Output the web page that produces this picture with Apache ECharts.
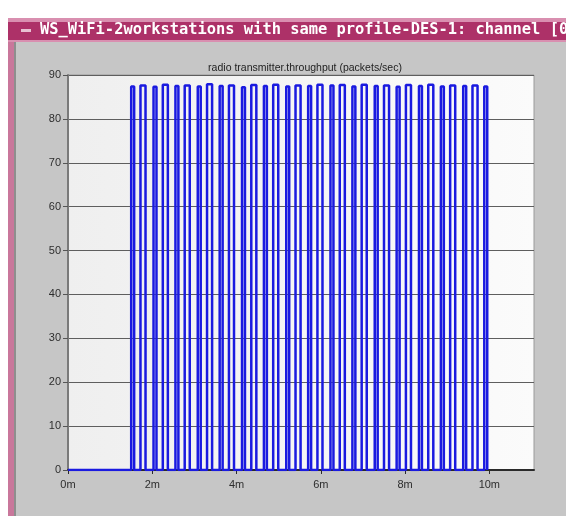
<!DOCTYPE html>
<html>
<head>
<meta charset="utf-8">
<style>
  html, body { margin: 0; padding: 0; background: #ffffff; }
  #chart { width: 566px; height: 516px; }
</style>
<script src="https://cdn.jsdelivr.net/npm/echarts@6/dist/echarts.min.js"></script>
</head>
<body>
<div id="chart"></div>
<script>
// Radio transmitter throughput (packets/sec) against simulation time (minutes).
// Each burst: time it starts, time it stops, and the level it reaches.
const burstOn  = [1.50, 1.72, 2.03, 2.25, 2.55, 2.77, 3.08, 3.30, 3.60, 3.82, 4.13, 4.35,
                  4.65, 4.87, 5.18, 5.40, 5.70, 5.92, 6.23, 6.45, 6.75, 6.97, 7.28, 7.50,
                  7.80, 8.02, 8.33, 8.55, 8.85, 9.07, 9.38, 9.60, 9.88];
const burstOff = [1.57, 1.84, 2.10, 2.37, 2.62, 2.89, 3.15, 3.42, 3.67, 3.94, 4.20, 4.47,
                  4.72, 4.99, 5.25, 5.52, 5.77, 6.04, 6.30, 6.57, 6.82, 7.09, 7.35, 7.62,
                  7.87, 8.14, 8.40, 8.67, 8.92, 9.19, 9.45, 9.72, 9.95];
const burstLevel = [87.4, 87.6, 87.3, 87.8, 87.5, 87.6, 87.4, 87.9, 87.5, 87.6, 87.2, 87.7,
                    87.5, 87.8, 87.4, 87.6, 87.5, 87.8, 87.6, 87.7, 87.4, 87.8, 87.5, 87.6,
                    87.3, 87.7, 87.5, 87.8, 87.4, 87.6, 87.5, 87.6, 87.4];
const yTicks = [0, 10, 20, 30, 40, 50, 60, 70, 80, 90];
const xTicks = [0, 2, 4, 6, 8, 10];

const windowTitle = 'WS_WiFi-2workstations with same profile-DES-1: channel [0';
const chartTitle = 'radio transmitter.throughput (packets/sec)';

// Build the stepped trace from the burst table.
const trace = [[0, 0]];
for (let i = 0; i < burstOn.length; i++) {
  trace.push([burstOn[i], 0], [burstOn[i], burstLevel[i]],
             [burstOff[i], burstLevel[i]], [burstOff[i], 0]);
}

const chart = echarts.init(document.getElementById('chart'), null, { renderer: 'canvas' });

const option = {
  animation: false,
  backgroundColor: '#ffffff',
  graphic: [
    // window body
    { type: 'rect', z: -10, shape: { x: 8, y: 18, width: 560, height: 500 },
      style: { fill: '#c6c6c6' } },
    // left frame strip
    { type: 'rect', z: -9, shape: { x: 8, y: 18, width: 6, height: 500 },
      style: { fill: '#c9779b' } },
    { type: 'rect', z: -9, shape: { x: 14, y: 40, width: 2, height: 478 },
      style: { fill: '#8e8e8e' } },
    // title bar
    { type: 'rect', z: -8, shape: { x: 8, y: 18, width: 560, height: 4 },
      style: { fill: '#d98fb0' } },
    { type: 'rect', z: -8, shape: { x: 8, y: 22, width: 560, height: 18 },
      style: { fill: '#ad3168' } },
    { type: 'rect', z: -8, shape: { x: 8, y: 40, width: 560, height: 2 },
      style: { fill: '#d98fb0' } },
    { type: 'rect', z: -7, shape: { x: 21, y: 29, width: 10, height: 3 },
      style: { fill: '#e8c0d2' } },
    { type: 'text', z: -7, left: 40, top: 22,
      style: { text: windowTitle, fill: '#ffffff',
               font: 'bold 15.4px "DejaVu Sans Mono", "Liberation Mono", monospace' } },
    // plot background
    { type: 'rect', z: -6, shape: { x: 68, y: 75, width: 466, height: 395 },
      style: { fill: new echarts.graphic.LinearGradient(0, 0, 1, 0, [
        { offset: 0, color: '#efefef' }, { offset: 1, color: '#fbfbfb' }]),
        stroke: '#9a9a9a', lineWidth: 1 } }
  ],
  title: {
    text: chartTitle,
    left: 300, top: 58, textAlign: 'center',
    textStyle: { fontFamily: 'Liberation Sans, Arial, sans-serif', fontSize: 10.5,
                 fontWeight: 'normal', color: '#222222' }
  },
  grid: { left: 68, right: 32, top: 75, bottom: 46, containLabel: false },
  xAxis: {
    type: 'value', min: 0, max: 11.06, interval: 2,
    axisLine: { show: true, lineStyle: { color: '#2a2a2a', width: 2 } },
    axisTick: { show: true, length: 4, lineStyle: { color: '#2a2a2a' },
                customValues: xTicks },
    axisLabel: { margin: 9, color: '#2e2e2e', fontSize: 11,
                 fontFamily: 'Liberation Sans, Arial, sans-serif',
                 customValues: xTicks,
                 formatter: v => v + 'm' },
    splitLine: { show: false }
  },
  yAxis: {
    type: 'value', min: 0, max: 90, interval: 10,
    axisLine: { show: true, lineStyle: { color: '#7a7a7a', width: 2 } },
    axisTick: { show: true, length: 5, lineStyle: { color: '#555555' } },
    axisLabel: { margin: 7, color: '#2e2e2e', fontSize: 11,
                 fontFamily: 'Liberation Sans, Arial, sans-serif' },
    splitLine: { show: true, lineStyle: { color: '#5e5e5e', width: 1 } }
  },
  series: [{
    type: 'line',
    data: trace,
    showSymbol: false,
    lineStyle: { color: '#1a1ae0', width: 2.5 },
    z: 5
  }]
};

chart.setOption(option);
</script>
</body>
</html>
